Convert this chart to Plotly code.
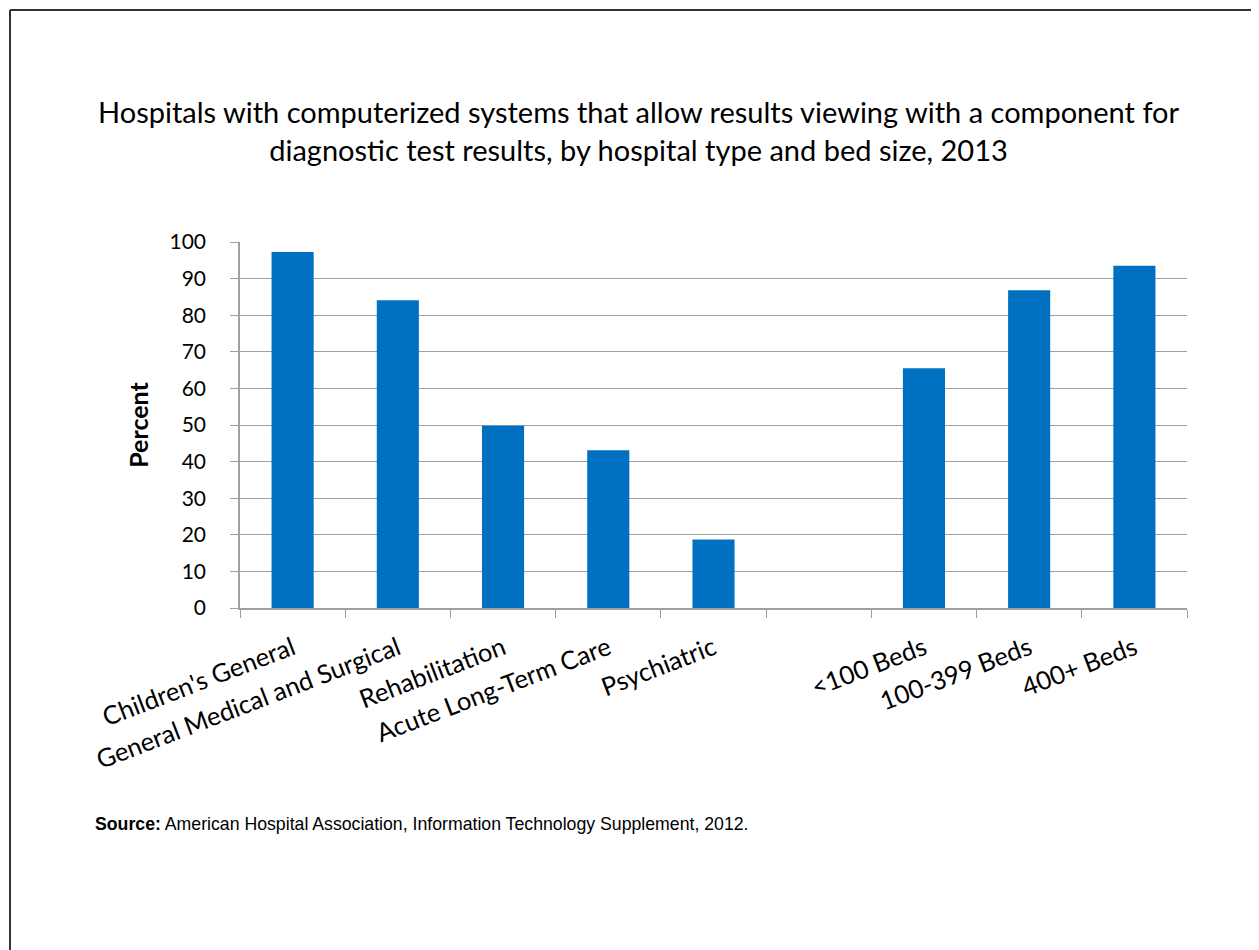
import plotly.graph_objects as go

categories = ["Children's General", "General Medical and Surgical", "Rehabilitation",
              "Acute Long-Term Care", "Psychiatric", " ", "<100 Beds", "100-399 Beds", "400+ Beds"]
percent = [97.3, 84.1, 49.8, 43.1, 18.7, None, 65.5, 86.8, 93.5]

title_text = ("Hospitals with computerized systems that allow results viewing with a component for<br>"
              "diagnostic test results, by hospital type and bed size, 2013")
source_text = "<b>Source:</b> American Hospital Association, Information Technology Supplement, 2012."

OFF = 8  # page body offset
# plot area in page pixels
L, R, T, B = 240, 1187, 242, 608
W, H = 1259 - OFF, 950 - OFF

def px_x(x):
    return (x - L) / (R - L)

def px_y(y):
    return (B - y) / (B - T)

fig = go.Figure()
fig.add_trace(go.Bar(
    x=categories, y=percent, width=0.4,
    marker=dict(color="#0070C0", line=dict(width=0)),
    hoverinfo="x+y",
))

fig.update_layout(
    width=W, height=H,
    margin=dict(l=L - OFF, r=W - (R - OFF), t=T - OFF, b=H - (B - OFF), pad=0),
    paper_bgcolor="white", plot_bgcolor="white",
    showlegend=False,
    font=dict(family="Lato, Noto Sans, sans-serif", color="black"),
    xaxis=dict(
        type="category", tickson="boundaries", ticks="outside", ticklen=8,
        tickcolor="#A0A0A0", showline=True, linecolor="#A0A0A0", linewidth=1.5,
        tickangle=-21, tickfont=dict(size=25.5, family="Lato, sans-serif"),
        ticklabelstandoff=14,
        showgrid=False, range=[-0.5, 8.5],
    ),
    yaxis=dict(
        range=[0, 100], dtick=10, ticks="outside", ticklen=8, tickcolor="#A0A0A0",
        showline=True, linecolor="#A0A0A0", linewidth=1.5,
        showgrid=True, gridcolor="#A0A0A0", gridwidth=1.2,
        tickfont=dict(size=21, family="Lato, sans-serif"),
        ticklabelstandoff=20,
        title=dict(text="<b>Percent</b>", font=dict(size=25, family="Lato, sans-serif"), standoff=14),
        zeroline=False,
    ),
)

fig.add_annotation(
    text=title_text, xref="paper", yref="paper",
    x=px_x(639), y=px_y(92), xanchor="center", yanchor="top",
    showarrow=False, align="center",
    font=dict(size=29, family="Lato, sans-serif", color="black"),
)
fig.add_annotation(
    text=source_text, xref="paper", yref="paper",
    x=px_x(93), y=px_y(824), xanchor="left", yanchor="middle",
    showarrow=False, align="left",
    font=dict(size=17.7, family="Liberation Sans, Arial, sans-serif", color="black"),
)

# outer frame (top and left edges visible)
fig.add_shape(type="line", xref="paper", yref="paper",
              x0=px_x(10), y0=px_y(10), x1=px_x(1270), y1=px_y(10),
              line=dict(color="#333333", width=2))
fig.add_shape(type="line", xref="paper", yref="paper",
              x0=px_x(10), y0=px_y(10), x1=px_x(10), y1=px_y(960),
              line=dict(color="#333333", width=2))

fig.write_html("out.html")
